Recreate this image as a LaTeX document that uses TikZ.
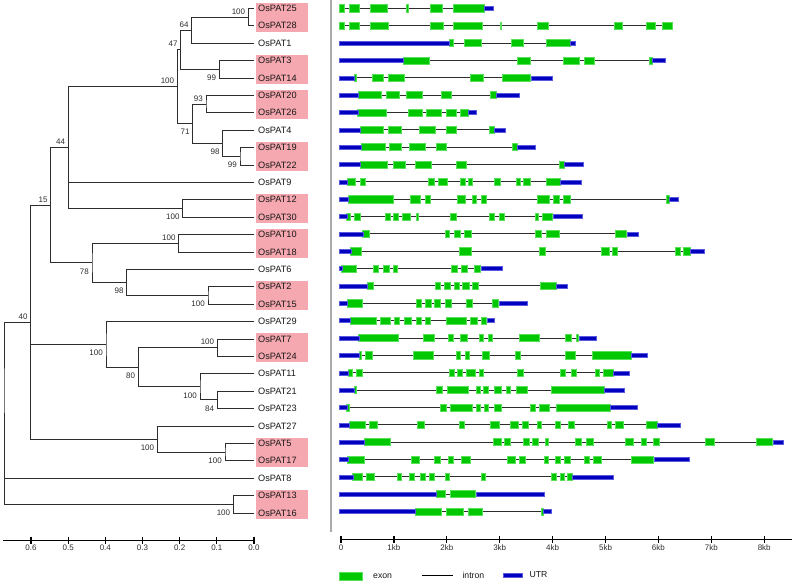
\documentclass[tikz,border=0pt]{standalone}
\usepackage{fontspec}
\setmainfont{Liberation Sans}
\usepackage{tikz}

\definecolor{treeline}{RGB}{45,45,45}
\definecolor{hlpink}{RGB}{246,168,176}
\definecolor{exongreen}{RGB}{0,200,0}
\definecolor{exonedge}{RGB}{90,225,90}
\definecolor{utrblue}{RGB}{0,0,190}
\definecolor{utredge}{RGB}{90,90,225}
\definecolor{labeltext}{RGB}{25,25,25}
\definecolor{sepgray}{RGB}{170,170,170}

\newcommand{\gene}[3]{%
  \draw[intronline] (28,8.3+17.35*#1) -- (#2,8.3+17.35*#1);
  \foreach \a/\b in {#3}{\path[exon] (\a,8.3+17.35*#1-3.6) rectangle (\b,8.3+17.35*#1+3.6);}}
\newcommand{\utr}[2]{%
  \foreach \a/\b in {#2}{\path[utr] (\a,8.3+17.35*#1-2) rectangle (\b,8.3+17.35*#1+2);}}

\begin{document}
\begin{tikzpicture}[x=1pt,y=-1pt,
  branch/.style={draw=treeline,line width=0.8pt},
  leaf/.style={anchor=west,inner sep=0pt,text=labeltext,font=\fontsize{9.2}{11}\selectfont},
  bootup/.style={anchor=base east,inner sep=0pt,xshift=-3pt,yshift=3pt,text=treeline,font=\fontsize{8}{9.6}\selectfont},
  bootdn/.style={anchor=base east,inner sep=0pt,xshift=-3pt,yshift=-11.3pt,text=treeline,font=\fontsize{8}{9.6}\selectfont},
  hlbox/.style={fill=hlpink,draw=none},
  intronline/.style={draw=treeline,line width=0.9pt},
  exon/.style={fill=exongreen,draw=exonedge,line width=0.5pt},
  utr/.style={fill=utrblue,draw=utredge,line width=0.3pt},
  axisline/.style={draw=black,line width=1.6pt},
  tickmark/.style={draw=black,line width=1.2pt},
  scalelbl/.style={inner sep=0pt,text=treeline,font=\fontsize{8}{9.6}\selectfont},
  legendtxt/.style={anchor=west,inner sep=0pt,text=labeltext,font=\fontsize{8.7}{10.4}\selectfont}]
\path[use as bounding box] (0,0) rectangle (795,584);
\path[fill=white,draw=none] (0,0) rectangle (795,584);

\foreach \g [count=\i from 0] in {25,28,1,3,14,20,26,4,19,22,9,12,30,10,18,6,2,15,29,7,24,11,21,23,27,5,17,8,13,16}
  \coordinate (t\g) at (254,8.3+17.4*\i);

\foreach \a/\b in {25/28,3/14,20/26,19/22,12/30,10/18,2/15,7/24,5/17,13/16}
  \path[hlbox] ([shift={(2,-5.6)}]t\a) rectangle ([shift={(54,6)}]t\b);

\foreach \g in {25,28,1,3,14,20,26,4,19,22,9,12,30,10,18,6,2,15,29,7,24,11,21,23,27,5,17,8,13,16}
  \node[leaf] (OsPAT\g) at ([xshift=4pt]t\g) {OsPAT\g};

\coordinate (nA) at (248.3,17.0);
\coordinate (nB) at (191.7,30.05);
\coordinate (nD) at (219.3,69.2);
\coordinate (nC) at (180.7,49.6);
\coordinate (nG) at (206,104.0);
\coordinate (nH) at (240,156.2);
\coordinate (nI) at (222.7,143.15);
\coordinate (nF) at (192.7,123.6);
\coordinate (nE) at (177.3,86.6);
\coordinate (nJ) at (182.7,208.4);
\coordinate (nK) at (68.3,147.5);
\coordinate (nN) at (178.7,243.2);
\coordinate (nO) at (208,295.4);
\coordinate (nM) at (126.7,282.35);
\coordinate (nP) at (92,262.8);
\coordinate (nL) at (50.7,205.15);
\coordinate (nV) at (217.3,347.6);
\coordinate (nX) at (217.3,399.8);
\coordinate (nW) at (200,386.75);
\coordinate (nU) at (138.3,367.2);
\coordinate (nT) at (106,344.3);
\coordinate (nZ) at (225,452.0);
\coordinate (nY) at (157.3,438.95);
\coordinate (nQ) at (30.7,322.05);
\coordinate (nAA) at (233.3,504.2);
\coordinate (nR) at (4,413.1);

\draw[branch] (t25) -| (nA) |- (t28);
\draw[branch] (nA) -| (nB) |- (t1);
\draw[branch] (t3) -| (nD) |- (t14);
\draw[branch] (nB) -| (nC) |- (nD);
\draw[branch] (t20) -| (nG) |- (t26);
\draw[branch] (t19) -| (nH) |- (t22);
\draw[branch] (t4) -| (nI) |- (nH);
\draw[branch] (nG) -| (nF) |- (nI);
\draw[branch] (nC) -| (nE) |- (nF);
\draw[branch] (t12) -| (nJ) |- (t30);
\draw[branch] (nE) -| (nK) |- (nJ);
\draw[branch] (nK) |- (t9);
\draw[branch] (t10) -| (nN) |- (t18);
\draw[branch] (t2) -| (nO) |- (t15);
\draw[branch] (t6) -| (nM) |- (nO);
\draw[branch] (nN) -| (nP) |- (nM);
\draw[branch] (nK) -| (nL) |- (nP);
\draw[branch] (t7) -| (nV) |- (t24);
\draw[branch] (t21) -| (nX) |- (t23);
\draw[branch] (t11) -| (nW) |- (nX);
\draw[branch] (nV) -| (nU) |- (nW);
\draw[branch] (t29) -| (nT) |- (nU);
\draw[branch] (t5) -| (nZ) |- (t17);
\draw[branch] (t27) -| (nY) |- (nZ);
\draw[branch] (nL) -| (nQ) |- (nY);
\draw[branch] (nQ) |- (nT);
\draw[branch] (t13) -| (nAA) |- (t16);
\draw[branch] (nQ) -| (nR) |- (nAA);
\draw[branch] (nR) |- (t8);

\foreach \n/\v in {nA/100,nB/64,nC/47,nE/100,nG/93,nK/44,nL/15,nN/100,nQ/40,nV/100}
  \node[bootup] (b\n) at (\n) {\v};
\foreach \n/\v in {nD/99,nF/71,nH/99,nI/98,nJ/100,nM/98,nO/100,nP/78,nT/100,nU/80,nW/100,nX/84,nY/100,nZ/100,nAA/100}
  \node[bootdn] (b\n) at (\n) {\v};

\draw[axisline] (3.3,540.5) -- (254,540.5);
\foreach \k in {0,...,6}{
  \draw[tickmark] ({254-37.17*\k},536.5) -- ({254-37.17*\k},543.5);
  \node[scalelbl] (d\k) at ({254-37.17*\k},548) {0.\k};
}

\draw[draw=sepgray,line width=1.6pt] (331,0) -- (331,532);

\begin{scope}[xshift=330pt,x=0.33333pt]
\gene{0}{488}{28/42,57/87,122/173,228/236,300/338,369/463}
\utr{0}{463/488}
\gene{1}{1028}{28/42,57/87,122/175,300/340,370/456,510/515,621/656,854/878,949/975,996/1028}
\gene{2}{735}{358/370,402/455,543/580,648/720}
\utr{2}{28/358,720/735}
\gene{3}{1005}{220/298,562/601,700/748,762/792,957/967}
\utr{3}{28/220,967/1005}
\gene{4}{665}{73/80,128/159,174/223,422/460,517/602}
\utr{4}{28/73,602/665}
\gene{5}{568}{85/155,169/207,228/277,333/364,480/498}
\utr{5}{28/85,498/568}
\gene{6}{438}{83/169,234/277,288/335,348/378,390/415}
\utr{6}{28/83,415/438}
\gene{7}{524}{90/161,175/213,269/317,348/379,478/492}
\utr{7}{28/90,492/524}
\gene{8}{615}{93/165,178/215,238/287,319/350,547/562}
\utr{8}{28/93,562/615}
\gene{9}{760}{90/173,189/227,257/305,379/409,688/702}
\utr{9}{28/90,702/760}
\gene{10}{752}{52/77,91/106,296/312,324/352,392/406,414/426,492/510,560/570,580/602,650/690}
\utr{10}{28/52,690/752}
\gene{11}{1043}{55/191,240/272,285/300,382/405,428/440,455/468,622/657,670/688,700/720,1008/1018}
\utr{11}{28/55,1018/1043}
\gene{12}{757}{50/60,72/92,167/180,191/206,218/242,258/265,360/379,477/493,509/524,615/625,638/668}
\utr{12}{28/50,668/757}
\gene{13}{925}{98/119,345/357,374/390,402/423,617/633,648/688,856/890}
\utr{13}{28/98,890/925}
\gene{14}{1122}{62/95,387/425,629/645,815/837,848/863,1037/1050,1060/1080}
\utr{14}{28/62,1080/1122}
\gene{15}{515}{35/80,131/146,161/177,189/202,365/381,395/411,434/452}
\utr{15}{28/35,452/515}
\gene{16}{711}{111/130,315/332,344/360,374/388,398/417,428/445,632/679}
\utr{16}{28/111,679/711}
\gene{17}{590}{52/98,259/275,286/305,314/330,345/364,409/426,487/506}
\utr{17}{28/52,506/590}
\gene{18}{492}{60/138,152/180,193/207,223/245,260/275,287/300,350/410,422/441,453/470}
\utr{18}{28/60,470/492}
\gene{19}{797}{86/205,281/312,354/370,390/412,449/460,476/488,567/627,706/724,738/746}
\utr{19}{28/86,746/797}
\gene{20}{950}{87/93,107/128,250/311,378/391,406/418,456/479,555/570,705/735,786/903}
\utr{20}{28/87,903/950}
\gene{21}{896}{55/67,78/98,357/372,383/397,410/436,448/459,561/579,690/706,725/740,795/807,821/849}
\utr{21}{28/55,849/896}
\gene{22}{883}{73/80,318/338,352/415,438/452,460/474,494/515,528/541,558/591,663/823}
\utr{22}{28/73,823/883}
\gene{23}{920}{50/57,330/348,362/428,440/452,463/476,492/513,600/616,627/659,680/840}
\utr{23}{28/50,840/920}
\gene{24}{1050}{58/105,119/143,263/284,387/402,482/509,540/564,576/594,622/633,676/690,714/734,831/844,855/880,950/981}
\utr{24}{28/58,981/1050}
\gene{25}{1360}{103/180,490/513,524/540,580/598,608/624,646/656,737/755,768/791,886/911,934/948,969/989,1127/1152,1280/1328}
\utr{25}{28/103,1328/1360}
\gene{26}{1076}{53/104,244/268,313/332,356/371,393/420,533/557,567/585,643/654,677/692,702/721,763/777,790/815,903/971}
\utr{26}{28/53,971/1076}
\gene{27}{850}{68/96,110/133,201/214,238/254,272/287,299/314,347/357,455/467,665/678,690/702,712/726}
\utr{27}{28/68,726/850}
\gene{28}{643}{318/345,360/437}
\utr{28}{28/318,437/643}
\gene{29}{663}{256/335,348/399,416/456,635/640}
\utr{29}{28/256,640/663}

\draw[axisline] (30,539.3) -- (1385,539.3);
\foreach \k/\t in {0/0,1/1kb,2/2kb,3/3kb,4/4kb,5/5kb,6/6kb,7/7kb,8/8kb}{
  \draw[tickmark] ({33+158.7*\k},536) -- ({33+158.7*\k},543);
  \node[scalelbl] (kb\k) at ({33+158.7*\k},548) {\t};
}
\end{scope}

\path[exon] (339,572.7) rectangle (362,580.7);
\node[legendtxt] (lexon) at (373,576.5) {exon};
\draw[draw=black,line width=1.5pt] (422.3,575.7) -- (452.7,575.7);
\node[legendtxt] (lintron) at (462.3,575.5) {intron};
\path[utr] (502.7,572.7) rectangle (521.7,577);
\node[legendtxt] (lutr) at (529.3,574.5) {UTR};
\end{tikzpicture}
\end{document}
